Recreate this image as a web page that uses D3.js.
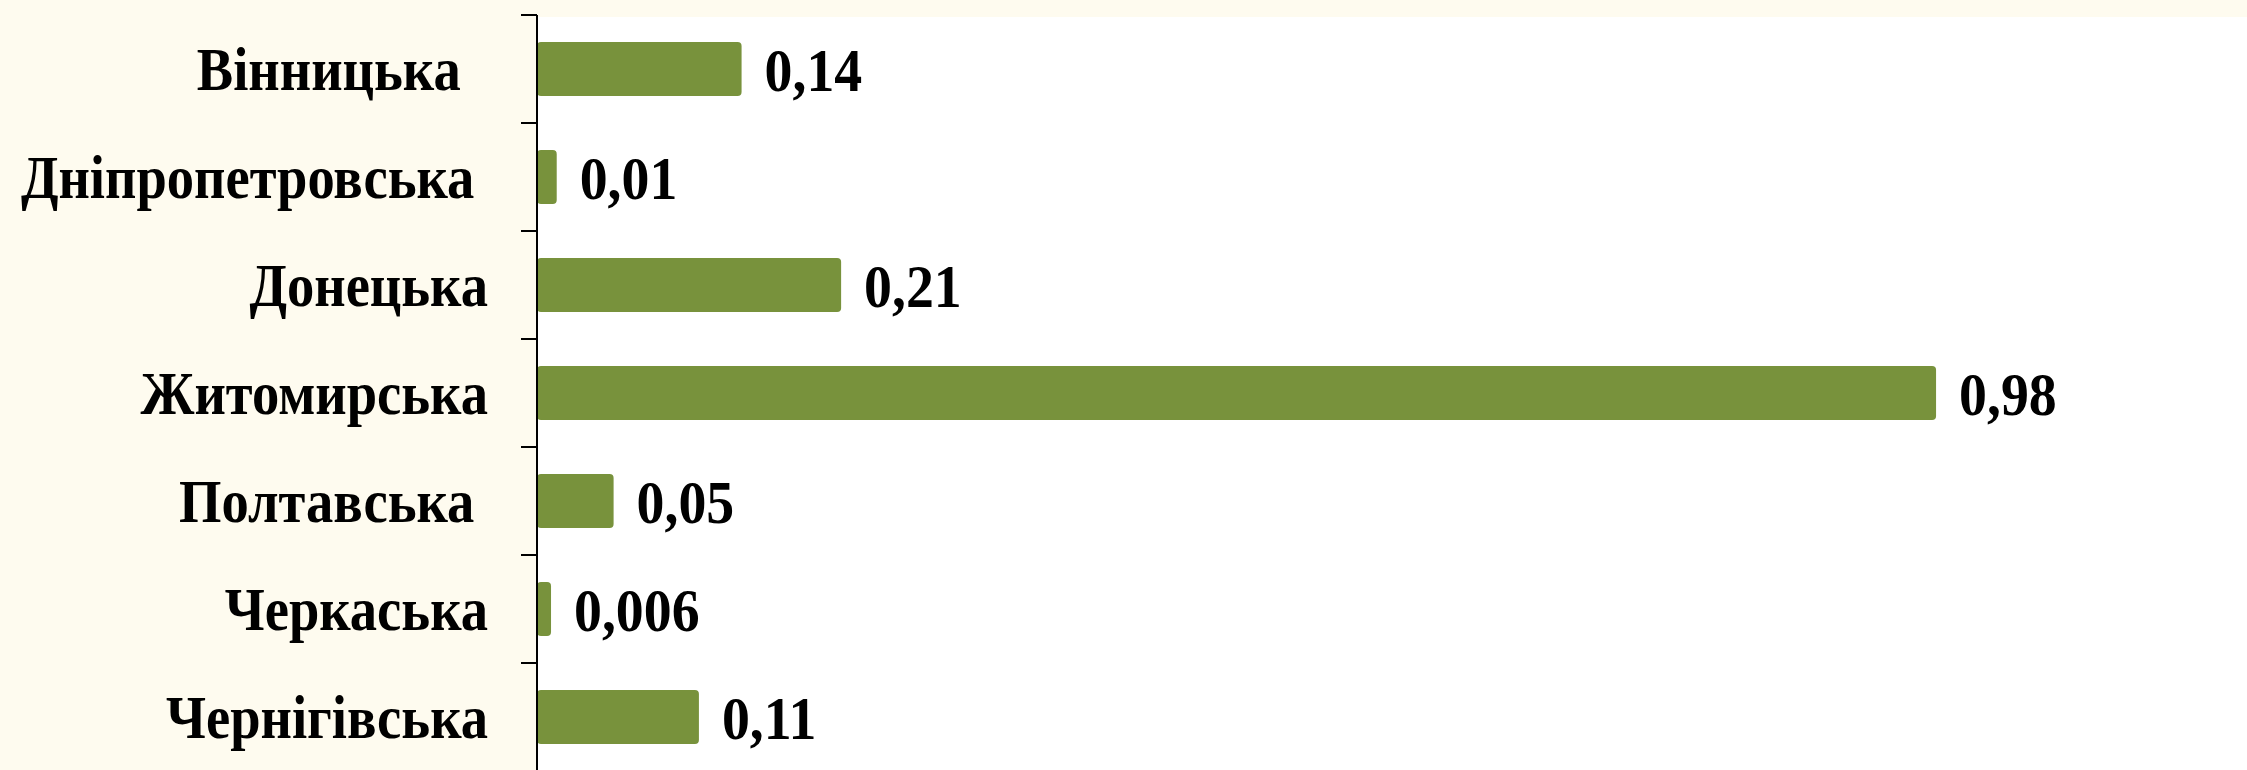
<!DOCTYPE html>
<html>
<head>
<meta charset="utf-8">
<script src="https://cdn.jsdelivr.net/npm/d3@7"></script>
<style>
  body { margin: 0; background: #fefbef; }
  text { font-family: "Liberation Serif", "Times New Roman", serif; font-weight: bold; white-space: pre; }
</style>
</head>
<body>
<div id="chart"></div>
<script>
// categories (trailing spaces as in the source sheet)
var regions = ["Вінницька  ", "Дніпропетровська ", "Донецька", "Житомирська", "Полтавська ", "Черкаська", "Чернігівська"];
var values = [0.14, 0.01, 0.21, 0.98, 0.05, 0.006, 0.11];
var valueLabels = ["0,14", "0,01", "0,21", "0,98", "0,05", "0,006", "0,11"];

var width = 2247, height = 770;
var axisX = 537;

var svg = d3.select("#chart")
  .append("svg")
    .attr("width", width)
    .attr("height", height);

// cream page, white plot area
svg.append("rect")
  .attr("width", width).attr("height", height)
  .attr("fill", "#fefbef");
svg.append("rect")
  .attr("x", axisX).attr("y", 17)
  .attr("width", width - axisX).attr("height", height - 17)
  .attr("fill", "#ffffff");

var y = d3.scaleBand()
  .domain(regions)
  .range([15, 771])
  .paddingInner(0.5)
  .paddingOuter(0.25);

// bars keep a small minimum stub past the axis, as in the original
var x = d3.scaleLinear()
  .domain([0, 1])
  .range([542.5, 1964.5]);

svg.append("g")
  .selectAll("rect")
  .data(regions)
  .enter()
  .append("rect")
    .attr("x", axisX)
    .attr("y", function(d) { return y(d); })
    .attr("width", function(d, i) { return x(values[i]) - axisX; })
    .attr("height", y.bandwidth())
    .attr("rx", 4)
    .attr("fill", "#78923c");

// value labels
svg.selectAll(".val")
  .data(regions)
  .enter()
  .append("text")
    .attr("class", "val")
    .attr("transform", function(d, i) {
      return "translate(" + (x(values[i]) + 23) + "," + (y(d) + y.bandwidth() / 2 + 22) + ") scale(0.9,1)";
    })
    .style("font-size", "62px")
    .attr("fill", "#000")
    .text(function(d, i) { return valueLabels[i]; });

// category labels
svg.selectAll(".cat")
  .data(regions)
  .enter()
  .append("text")
    .attr("class", "cat")
    .attr("text-anchor", "end")
    .attr("transform", function(d) {
      return "translate(488," + (y(d) + y.bandwidth() / 2 + 21) + ") scale(0.88,1)";
    })
    .style("font-size", "62px")
    .attr("fill", "#000")
    .text(function(d) { return d; });

// axis line with ticks on band boundaries
var bounds = regions.map(function(d) { return y(d) - y.step() * y.paddingInner() / 2; });
bounds.push(y.range()[1]);

var axis = svg.append("g").attr("stroke", "#000").attr("stroke-width", 2);
axis.append("line")
  .attr("x1", axisX).attr("x2", axisX)
  .attr("y1", y.range()[0]).attr("y2", height);
axis.selectAll(".tick")
  .data(bounds)
  .enter()
  .append("line")
    .attr("x1", axisX - 16).attr("x2", axisX)
    .attr("y1", function(d) { return d; })
    .attr("y2", function(d) { return d; });
</script>
</body>
</html>
